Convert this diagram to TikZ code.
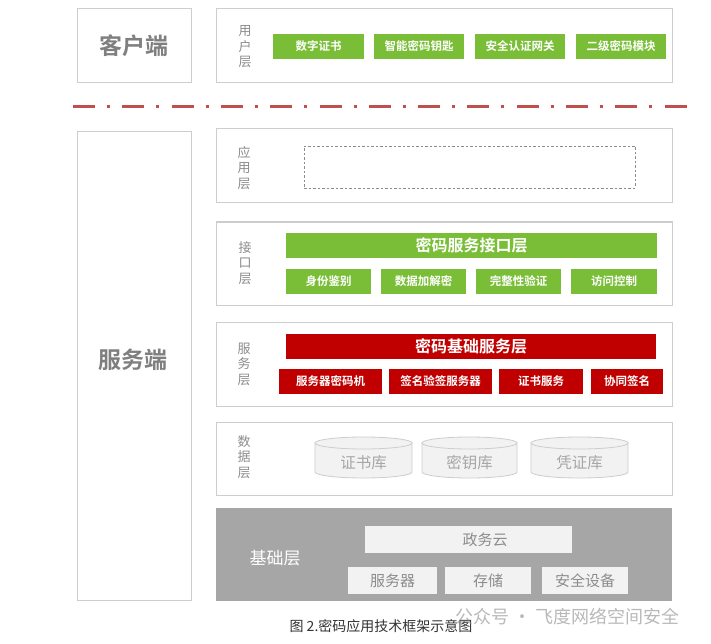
\documentclass[tikz,border=0pt]{standalone}
\usepackage{fontspec}
\setmainfont{Noto Sans CJK SC}[BoldFont={Noto Sans CJK SC Bold}]

\definecolor{boxgray}{RGB}{205,205,205}
\definecolor{txtgray}{RGB}{127,127,127}
\definecolor{lblgray}{RGB}{140,140,140}
\definecolor{okgreen}{RGB}{122,190,56}
\definecolor{darkred}{RGB}{192,0,0}
\definecolor{basegray}{RGB}{166,166,166}
\definecolor{pale}{RGB}{242,242,242}
\definecolor{cutred}{RGB}{192,80,77}

\tikzset{
  layer/.style={draw=boxgray, line width=1pt, fill=white, minimum width=456pt, inner sep=0pt},
  side/.style={draw=boxgray, line width=1pt, minimum width=114pt, inner sep=0pt},
  sidetxt/.style={text=txtgray, font=\bfseries\fontsize{23}{23}\selectfont, inner sep=0pt},
  lbl/.style={text=lblgray, font=\fontsize{13}{15.5}\selectfont, align=center, inner sep=0pt},
  gbox/.style={fill=okgreen, text=white, font=\bfseries\fontsize{11.5}{11.5}\selectfont, minimum height=25pt, inner sep=0pt},
  gbar/.style={gbox, font=\bfseries\fontsize{16}{16}\selectfont},
  rbox/.style={gbox, fill=darkred},
  rbar/.style={gbar, fill=darkred},
  dbcyl/.style={fill=pale, draw=boxgray, line width=0.8pt},
  dbtxt/.style={text=basegray, font=\fontsize{15.5}{15.5}\selectfont, inner sep=0pt},
  basebox/.style={fill=pale, text=lblgray, font=\fontsize{15}{15}\selectfont, minimum height=27pt, inner sep=0pt},
  cutline/.style={draw=cutred, line width=3pt, dash pattern=on 22pt off 12pt on 3pt off 12.3pt}
}

\begin{document}
\begin{tikzpicture}[x=1pt, y=-1pt]
    \useasboundingbox[fill=white] (0,0) rectangle (711,644);

    % client side
    \node[side, minimum height=74pt] (khd) at (134,46) {};
    \node[sidetxt] (khdtxt) at (134,46) {客户端};
    \node[layer, minimum height=74pt] (yhc) at (444,46) {};
    \node[lbl] (yhclbl) at (245,47) {用\\户\\层};
    \node[gbox, minimum width=91pt] (szzs) at (318.5,46.5) {数字证书};
    \node[gbox, minimum width=90pt] (znys) at (419,46.5) {智能密码钥匙};
    \node[gbox, minimum width=90pt] (aqwg) at (520,46.5) {安全认证网关};
    \node[gbox, minimum width=90pt] (ejmk) at (621,46.5) {二级密码模块};

    \coordinate (cutL) at (73,107);
    \coordinate (cutR) at (687,107);
    \path[cutline] (cutL) -- (cutR);

    % server side
    \node[side, minimum height=468pt] (fwd) at (134,366) {};
    \node[sidetxt] (fwdtxt) at (133,360) {服务端};

    \node[layer, minimum height=74pt] (yyc) at (444,166) {};
    \node[lbl] (yyclbl) at (244,168) {应\\用\\层};
    \node[draw=lblgray, line width=0.8pt, dash pattern=on 2.5pt off 2pt, minimum width=331pt, minimum height=42pt] (yyk) at (469.5,167) {};

    \node[layer, minimum height=83pt] (jkc) at (444,263.5) {};
    \node[lbl] (jkclbl) at (245,263) {接\\口\\层};
    \node[gbar, minimum width=371pt] (jkbar) at (471.5,245.5) {密码服务接口层};
    \node[gbox, minimum width=85pt] (sfjb) at (328.5,281.5) {身份鉴别};
    \node[gbox, minimum width=85pt] (sjjm) at (423.5,281.5) {数据加解密};
    \node[gbox, minimum width=85pt] (wzxy) at (518.5,281.5) {完整性验证};
    \node[gbox, minimum width=86pt] (fwkz) at (614,281.5) {访问控制};

    \node[layer, minimum height=84pt] (fwc) at (444,364) {};
    \node[lbl] (fwclbl) at (244,364) {服\\务\\层};
    \node[rbar, minimum width=370pt] (fwbar) at (471,346.5) {密码基础服务层};
    \node[rbox, minimum width=103pt] (mmj) at (330.5,381.5) {服务器密码机};
    \node[rbox, minimum width=103pt] (yqfw) at (440.5,381.5) {签名验签服务器};
    \node[rbox, minimum width=84pt] (zsfw) at (541,381.5) {证书服务};
    \node[rbox, minimum width=72pt] (xtqm) at (627,381.5) {协同签名};

    \node[layer, minimum height=73pt] (sjc) at (444,458.5) {};
    \node[lbl] (sjclbl) at (244,457) {数\\据\\层};
    \path[dbcyl] (315,443) -- (315,472) arc[start angle=180, end angle=360, x radius=48.5pt, y radius=6pt] -- (412,443) -- cycle;
    \path[dbcyl] (363.5,443) ellipse [x radius=48.5pt, y radius=6pt];
    \path[dbcyl] (422,443) -- (422,472) arc[start angle=180, end angle=360, x radius=47.5pt, y radius=6pt] -- (517,443) -- cycle;
    \path[dbcyl] (469.5,443) ellipse [x radius=47.5pt, y radius=6pt];
    \path[dbcyl] (531,443) -- (531,472) arc[start angle=180, end angle=360, x radius=48.5pt, y radius=6pt] -- (628,443) -- cycle;
    \path[dbcyl] (579.5,443) ellipse [x radius=48.5pt, y radius=6pt];
    \node[dbtxt] (zsk) at (363.5,463) {证书库};
    \node[dbtxt] (myk) at (469.5,463) {密钥库};
    \node[dbtxt] (pzk) at (579.5,463) {凭证库};

    \node[fill=basegray, minimum width=456pt, minimum height=93pt, inner sep=0pt] (jcc) at (444,554.5) {};
    \node[text=white, font=\fontsize{17}{17}\selectfont] (jcclbl) at (275,558) {基础层};
    \node[basebox, minimum width=207pt] (zwy) at (468.5,539.5) {};
    \node[text=lblgray, font=\fontsize{15}{15}\selectfont, inner sep=0pt] (zwytxt) at (485,540) {政务云};
    \node[basebox, minimum width=89pt] (fwq) at (392.5,580.5) {服务器};
    \node[basebox, minimum width=86pt] (cc) at (488,580.5) {存储};
    \node[basebox, minimum width=86pt] (aqsb) at (585,580.5) {安全设备};

    \node[text=black!80, font=\fontsize{14}{14}\selectfont, inner sep=0pt] (cap) at (381,626) {图 2.密码应用技术框架示意图};
    \node[text=gray, opacity=0.55, font=\fontsize{18}{18}\selectfont, anchor=west, inner sep=0pt] (wm) at (455,617) {公众号 · 飞度网络空间安全};
\end{tikzpicture}
\end{document}
